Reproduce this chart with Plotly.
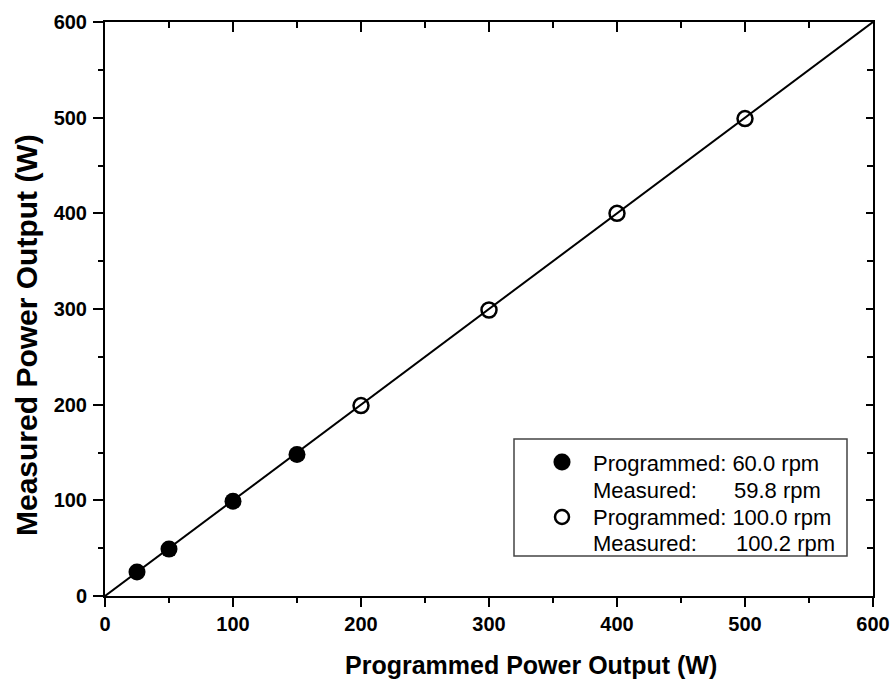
import plotly.graph_objects as go

# Data
prog_60 = [25, 50, 100, 150]
meas_60 = [25, 49, 99, 148]
prog_100 = [200, 300, 400, 500]
meas_100 = [199, 299, 400, 499]
fit_x = [0, 600]
fit_y = [0, 600]
ticks = [0, 100, 200, 300, 400, 500, 600]

x_title = "Programmed Power Output (W)"
y_title = "Measured Power Output (W)"
leg_prog = ["Programmed: 60.0 rpm", "Programmed: 100.0 rpm"]
leg_meas_lbl = "Measured:"
leg_meas_val = ["59.8 rpm", "100.2 rpm"]

FONT = "Liberation Sans, Arial, sans-serif"
W, H = 895, 680
ML, MR, MT, MB = 105, 22, 22, 84
PW, PH = W - ML - MR, H - MT - MB


def px(xp):
    return (xp - ML) / PW


def py(yp):
    return (H - MB - yp) / PH


fig = go.Figure()
fig.add_trace(go.Scatter(x=fit_x, y=fit_y, mode="lines",
                         line=dict(color="black", width=2), showlegend=False,
                         hoverinfo="skip"))
fig.add_trace(go.Scatter(x=prog_60, y=meas_60, mode="markers",
                         name="Programmed: 60.0 rpm, Measured: 59.8 rpm",
                         showlegend=False,
                         marker=dict(symbol="circle", size=17, color="black")))
fig.add_trace(go.Scatter(x=prog_100, y=meas_100, mode="markers",
                         name="Programmed: 100.0 rpm, Measured: 100.2 rpm",
                         showlegend=False,
                         marker=dict(symbol="circle-open", size=15, color="black",
                                     line=dict(width=2.5, color="black"))))
# empty trace to activate mirror axes
fig.add_trace(go.Scatter(x=[], y=[], xaxis="x2", yaxis="y2", showlegend=False))

axis_common = dict(range=[0, 600], tickvals=ticks, showgrid=False, zeroline=False,
                   showline=True, linecolor="black", linewidth=2,
                   tickcolor="black", tickwidth=2, automargin=False)

fig.update_layout(
    width=W, height=H,
    margin=dict(l=ML, r=MR, t=MT, b=MB, autoexpand=False),
    paper_bgcolor="white", plot_bgcolor="white",
    font=dict(family=FONT, color="black"),
    showlegend=False,
    xaxis=dict(**axis_common, ticks="outside", ticklen=9,
               minor=dict(dtick=50, tick0=0, ticks="outside", ticklen=5,
                          tickwidth=2, tickcolor="black"),
               tickfont=dict(size=20, family=FONT, weight="bold")),
    yaxis=dict(**axis_common, ticks="outside", ticklen=10, ticklabelstandoff=2,
               minor=dict(dtick=50, tick0=0, ticks="outside", ticklen=5,
                          tickwidth=2, tickcolor="black"),
               tickfont=dict(size=20, family=FONT, weight="bold")),
    xaxis2=dict(**axis_common, overlaying="x", side="top", anchor="y",
                ticks="inside", ticklen=10, showticklabels=False,
                minor=dict(dtick=50, tick0=0, ticks="inside", ticklen=6,
                           tickwidth=2, tickcolor="black")),
    yaxis2=dict(**axis_common, overlaying="y", side="right", anchor="x",
                ticks="inside", ticklen=7, showticklabels=False,
                minor=dict(dtick=50, tick0=0, ticks="inside", ticklen=6,
                           tickwidth=2, tickcolor="black")),
)

annotations = []
# axis titles
annotations.append(dict(text=x_title, xref="paper", yref="paper",
                        x=px(531), y=py(665), xanchor="center", yanchor="middle",
                        showarrow=False,
                        font=dict(size=25, family=FONT, weight="bold", color="black")))
annotations.append(dict(text=y_title, xref="paper", yref="paper",
                        x=px(26), y=py(335), xanchor="center", yanchor="middle",
                        textangle=-90, showarrow=False,
                        font=dict(size=30, family=FONT, weight="bold", color="black")))

# legend box
shapes = [dict(type="rect", xref="paper", yref="paper",
               x0=px(514), x1=px(847), y0=py(556), y1=py(439),
               line=dict(color="#444444", width=1.5), fillcolor="white", layer="above")]
# legend symbols
sym_y = [462, 517]
sym_fill = ["black", "white"]
sym_d = [17, 14]
sym_lw = [0, 2.5]
for i in range(2):
    r = sym_d[i] / 2
    shapes.append(dict(type="circle", xref="paper", yref="paper",
                       xsizemode="pixel", ysizemode="pixel",
                       xanchor=px(562), yanchor=py(sym_y[i]),
                       x0=-r, x1=r, y0=-r, y1=r,
                       fillcolor=sym_fill[i],
                       line=dict(color="black", width=sym_lw[i] if sym_lw[i] else 0.1),
                       layer="above"))

leg_font = dict(size=22, family=FONT, color="black")
line_y = [[463, 490], [517, 543]]
val_x = [733, 735]
for i in range(2):
    annotations.append(dict(text=leg_prog[i], xref="paper", yref="paper",
                            x=px(592), y=py(line_y[i][0]), xanchor="left",
                            yanchor="middle", showarrow=False, font=leg_font,
                            borderpad=0))
    annotations.append(dict(text=leg_meas_lbl, xref="paper", yref="paper",
                            x=px(592), y=py(line_y[i][1]), xanchor="left",
                            yanchor="middle", showarrow=False, font=leg_font,
                            borderpad=0))
    annotations.append(dict(text=leg_meas_val[i], xref="paper", yref="paper",
                            x=px(val_x[i]), y=py(line_y[i][1]), xanchor="left",
                            yanchor="middle", showarrow=False, font=leg_font,
                            borderpad=0))

fig.update_layout(annotations=annotations, shapes=shapes)

fig.write_html("out.html")
